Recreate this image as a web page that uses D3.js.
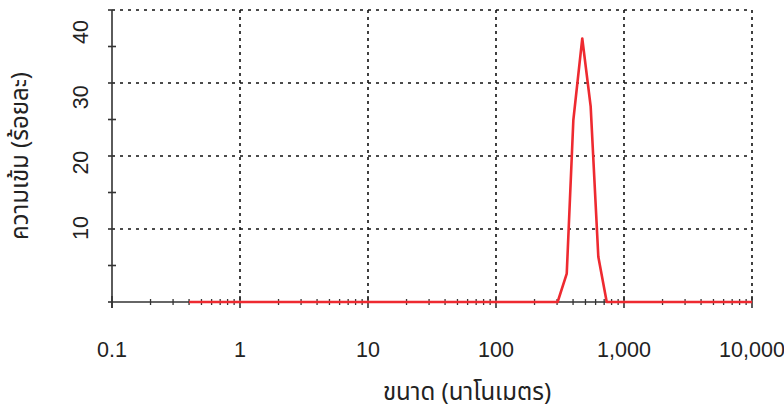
<!DOCTYPE html>
<html>
<head>
<meta charset="utf-8">
<script src="https://cdn.jsdelivr.net/npm/d3@7"></script>
<style>
  html, body { margin: 0; padding: 0; background: #ffffff; }
  svg { display: block; }
  text { font-family: "Liberation Sans", Arial, Helvetica, sans-serif; fill: #222; }
  .thai { font-family: "Noto Sans Thai", "Noto Sans", "DejaVu Sans", sans-serif; }
</style>
</head>
<body>
<svg id="chart" width="784" height="411"></svg>
<script>
// Particle size distribution (intensity %, by diameter in nm)
const sizes = [0.4, 303, 357, 402, 472, 549, 630, 733, 10000];
const intensity = [0, 0, 3.9, 24.9, 36.1, 26.8, 6.2, 0, 0];

const xTickValues = [0.1, 1, 10, 100, 1000, 10000];
const xTickLabels = ["0.1", "1", "10", "100", "1,000", "10,000"];
const yTickValues = [10, 20, 30, 40];
const yTickLabels = ["10", "20", "30", "40"];
const xTitle = "ขนาด (นาโนเมตร)";
const yTitle = "ความเข้ม (ร้อยละ)";

const svg = d3.select("#chart");
const plotLeft = 112, plotRight = 752, plotTop = 10, plotBottom = 302;

const x = d3.scaleLog().domain([0.1, 10000]).range([plotLeft, plotRight]);
const y = d3.scaleLinear().domain([0, 40]).range([plotBottom, plotTop]);
// the rotated value labels sit on their own, slightly tighter, spacing
const yLabel = d3.scaleLinear().domain([10, 40]).range([228, 32]);

// dotted grid: horizontal lines at each labelled value, vertical at decades
const grid = svg.append("g");
grid.append("g").selectAll("line").data(yTickValues).join("line")
  .attr("x1", plotLeft).attr("x2", plotRight)
  .attr("y1", d => y(d)).attr("y2", d => y(d))
  .attr("stroke", "#111").attr("stroke-width", 1.6)
  .attr("stroke-dasharray", "3,5");
grid.append("g").selectAll("line").data(xTickValues.slice(1)).join("line")
  .attr("x1", d => x(d)).attr("x2", d => x(d))
  .attr("y1", plotTop).attr("y2", plotBottom)
  .attr("stroke", "#111").attr("stroke-width", 1.6)
  .attr("stroke-dasharray", "3,4");

// minor ticks along the size axis (2..9 of each decade)
const minor = [];
for (let e = -1; e < 4; e++) {
  for (let m = 2; m <= 9; m++) minor.push(m * Math.pow(10, e));
}

const axisColor = "#333";
// x axis line and ticks
svg.append("line")
  .attr("x1", plotLeft).attr("x2", plotRight).attr("y1", plotBottom).attr("y2", plotBottom)
  .attr("stroke", axisColor).attr("stroke-width", 1.6);
svg.append("g").selectAll("line").data(minor).join("line")
  .attr("x1", d => x(d)).attr("x2", d => x(d))
  .attr("y1", plotBottom - 3).attr("y2", plotBottom + 3)
  .attr("stroke", axisColor).attr("stroke-width", 1.3);
svg.append("g").selectAll("line").data(xTickValues).join("line")
  .attr("x1", d => x(d)).attr("x2", d => x(d))
  .attr("y1", plotBottom - 6).attr("y2", plotBottom + 6)
  .attr("stroke", axisColor).attr("stroke-width", 1.6);

// y axis line and ticks (every 5 units)
svg.append("line")
  .attr("x1", plotLeft).attr("x2", plotLeft).attr("y1", plotTop).attr("y2", plotBottom + 6)
  .attr("stroke", axisColor).attr("stroke-width", 1.6);
svg.append("g").selectAll("line").data(d3.range(0, 41, 5)).join("line")
  .attr("x1", plotLeft - 4).attr("x2", d => d % 10 === 0 ? plotLeft : plotLeft + 4)
  .attr("y1", d => y(d)).attr("y2", d => y(d))
  .attr("stroke", axisColor).attr("stroke-width", 1.6);

// tick labels
svg.append("g").selectAll("text").data(xTickValues).join("text")
  .attr("x", d => x(d)).attr("y", 357)
  .attr("text-anchor", "middle").attr("font-size", 21.5)
  .text((d, i) => xTickLabels[i]);

svg.append("g").selectAll("text").data(yTickValues).join("text")
  .attr("transform", d => `translate(88,${yLabel(d)}) rotate(-90)`)
  .attr("text-anchor", "middle").attr("font-size", 21.5)
  .text((d, i) => yTickLabels[i]);

// distribution curve
const line = d3.line().x((d, i) => x(sizes[i])).y(d => y(d));
svg.append("path").datum(intensity)
  .attr("d", line).attr("fill", "none")
  .attr("stroke", "#ee2a30").attr("stroke-width", 2.6)
  .attr("stroke-linejoin", "round");

// axis titles
svg.append("text").attr("class", "thai")
  .attr("x", 467).attr("y", 400).attr("text-anchor", "middle")
  .attr("font-size", 24).text(xTitle);
svg.append("text").attr("class", "thai")
  .attr("transform", `translate(28,${(plotTop + plotBottom) / 2}) rotate(-90)`)
  .attr("text-anchor", "middle").attr("font-size", 24).text(yTitle);
</script>
</body>
</html>
